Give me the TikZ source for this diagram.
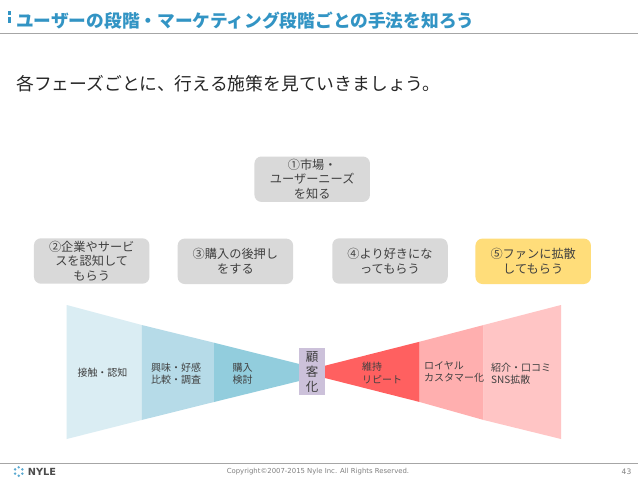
\documentclass[tikz,border=0pt]{standalone}
\usepackage{fontspec}
\setmainfont{Noto Sans CJK JP}
\newfontfamily\latinfont{DejaVu Sans}
\usetikzlibrary{calc}
\definecolor{titleblue}{HTML}{3294C4}
\definecolor{rulegray}{HTML}{A6A6A6}
\definecolor{boxgray}{HTML}{D9D9D9}
\definecolor{boxyellow}{HTML}{FFDD7A}
\definecolor{blueA}{HTML}{DAEDF3}
\definecolor{blueB}{HTML}{B6DBE8}
\definecolor{blueC}{HTML}{92CDDD}
\definecolor{redA}{HTML}{FF6060}
\definecolor{redB}{HTML}{FFAFAF}
\definecolor{redC}{HTML}{FFC5C5}
\definecolor{purpleK}{HTML}{CCC1DA}
\definecolor{textgray}{HTML}{404040}
\definecolor{footgray}{HTML}{808080}
\tikzset{
  x=1pt,y=-1pt,
  phase/.style={fill=boxgray,rounded corners=7pt,minimum width=115.5pt,minimum height=45.4pt,
     inner sep=0pt,outer sep=0pt,text=textgray,align=center,font=\fontsize{12.2}{14.7}\selectfont},
  funnellabel/.style={inner sep=0pt,text=textgray,font=\fontsize{10}{12.3}\selectfont,align=left},
}
\begin{document}
\begin{tikzpicture}
\useasboundingbox (0,0) rectangle (638,479);
\fill[white] (0,0) rectangle (638,479);
% header
\fill[titleblue] (8,11) rectangle (10.6,15);
\fill[titleblue] (8,17.3) rectangle (10.6,23.3);
\node[anchor=west,inner sep=0pt,text=titleblue] (title) at (16,20.5)
  {\fontsize{17.7}{20}\selectfont\bfseries ユーザーの段階・マーケティング段階ごとの手法を知ろう};
\draw[rulegray,line width=0.9pt] (0,33.3) -- (638,33.3);
\node[anchor=west,inner sep=0pt,text=black!85] (lead) at (16,83.5)
  {\fontsize{17.8}{22}\selectfont 各フェーズごとに、行える施策を見ていきましょう。};
% phase boxes
\node[phase] (p1) at (312.2,179.2) {①市場・\\ユーザーニーズ\\を知る};
\node[phase] (p2) at (91.7,261) {②企業やサービ\\スを認知して\\もらう};
\node[phase] (p3) at (235.4,261.3) {③購入の後押し\\をする};
\node[phase] (p4) at (390,261) {④より好きにな\\ってもらう};
\node[phase,fill=boxyellow] (p5) at (533.2,261.3) {⑤ファンに拡散\\してもらう};
% funnel left
\fill[blueA] (66.7,305) -- (141.7,325) -- (141.7,420) -- (66.7,439) -- cycle;
\fill[blueB] (141.7,325) -- (214,342.7) -- (214,402) -- (141.7,420) -- cycle;
\fill[blueC] (214,342.7) -- (299.3,364) -- (299.3,381) -- (214,402) -- cycle;
% funnel right
\fill[redA] (325,365.7) -- (419.7,341.7) -- (419.7,402) -- (325,378) -- cycle;
\fill[redB] (419.7,341.7) -- (483.7,325) -- (483.7,420) -- (419.7,402) -- cycle;
\fill[redC] (483.7,325) -- (561,305) -- (561,439) -- (483.7,420) -- cycle;
% customer
\node[fill=purpleK,minimum width=26pt,minimum height=47pt,inner sep=0pt,align=center,text=textgray,
  font=\fontsize{12.5}{15}\selectfont] (k) at (312,371.8) {顧\\客\\化};
% funnel labels
\node[funnellabel] (a) at (102.5,372.5) {接触・認知};
\node[funnellabel] (b) at (176,373.7) {興味・好感\\比較・調査};
\node[funnellabel,align=center] (c) at (242.5,373.5) {購入\\検討};
\node[funnellabel,anchor=west] (d) at (362,373) {維持\\リピート};
\node[funnellabel,anchor=west] (e) at (424,372) {ロイヤル\\カスタマー化};
\node[funnellabel,anchor=west] (f) at (491,373.7) {紹介・口コミ\\SNS拡散};
% footer
\draw[rulegray,line width=0.9pt] (0,463.3) -- (638,463.3);
\foreach \a in {0,60,...,300}
  \fill[titleblue!80] ($(18.7,471.5)+(\a+30:4.2)$) circle (1.35);
\node[anchor=west,inner sep=0pt,text=black!70] (logo) at (27.7,471.7)
  {\latinfont\fontsize{9.8}{10}\selectfont\bfseries NYLE};
\node[inner sep=0pt,text=footgray] (copy) at (318,471.5)
  {\latinfont\fontsize{6.9}{8}\selectfont Copyright©2007-2015 Nyle Inc. All Rights Reserved.};
\node[inner sep=0pt,text=footgray] (num) at (626.5,471.4)
  {\latinfont\fontsize{7.5}{8}\selectfont 43};
\end{tikzpicture}
\end{document}
